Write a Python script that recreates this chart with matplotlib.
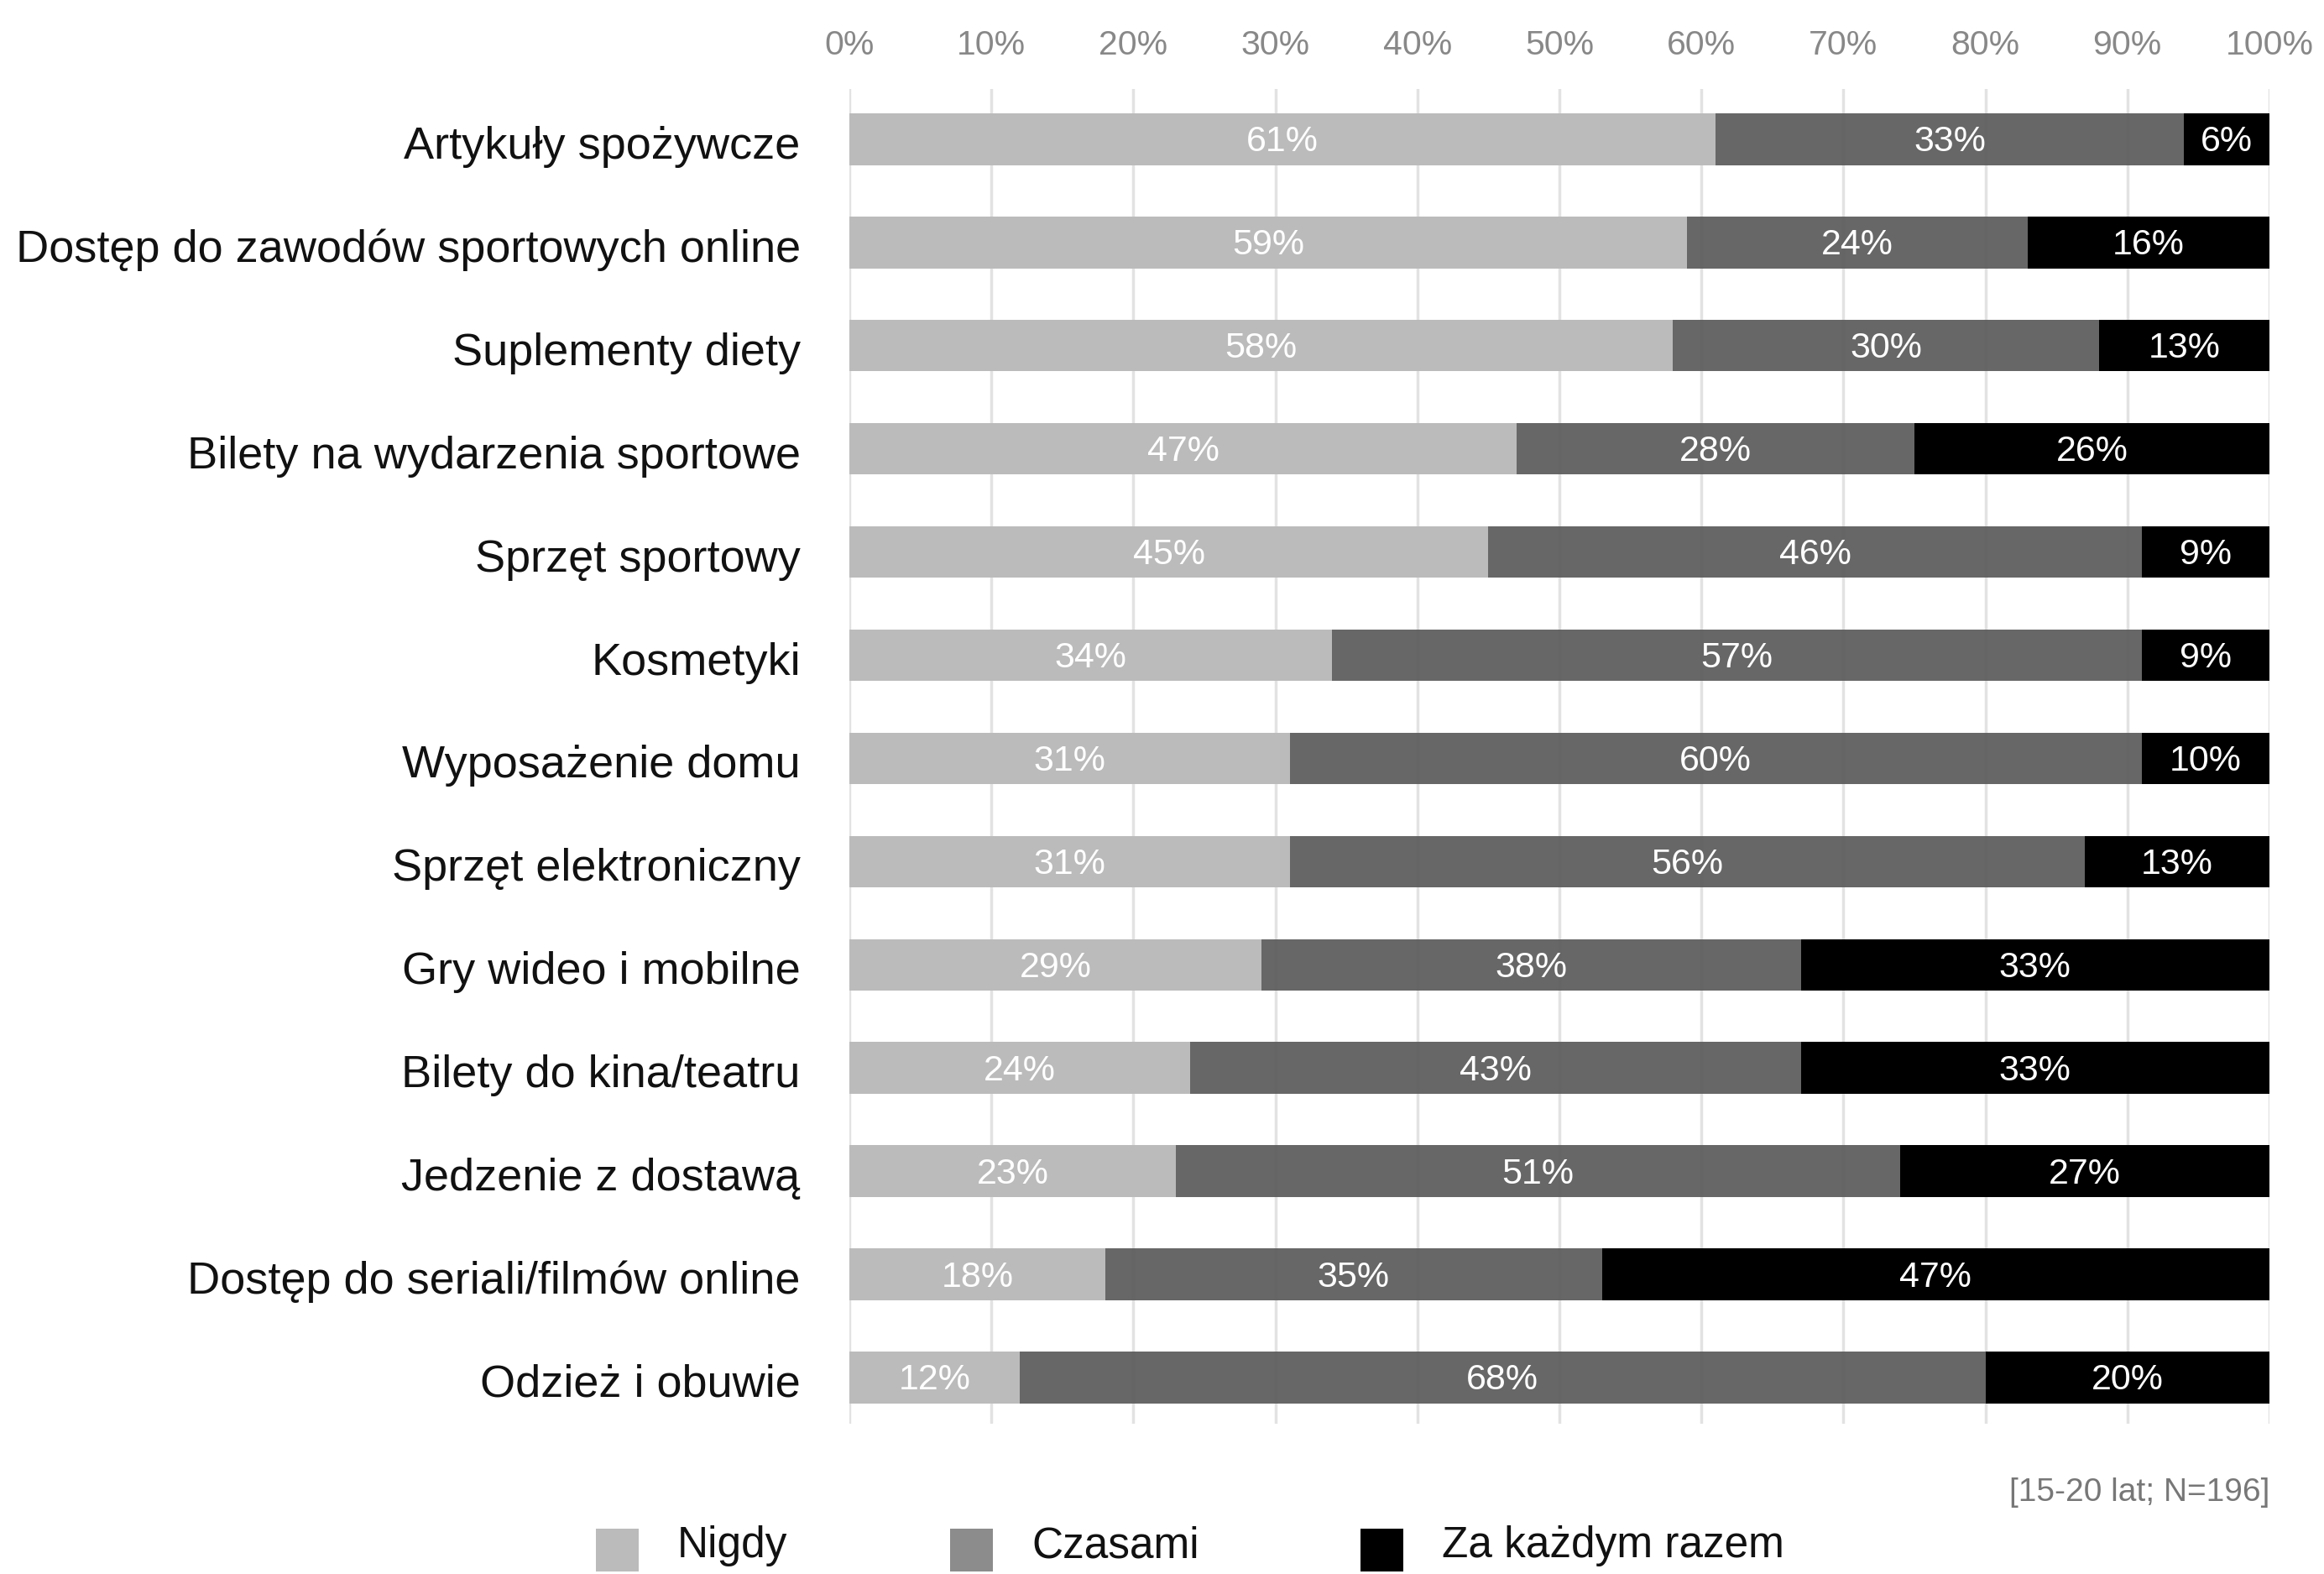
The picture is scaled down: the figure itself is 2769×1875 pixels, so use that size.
import matplotlib
matplotlib.use("Agg")
import matplotlib.pyplot as plt
from matplotlib.patches import Rectangle
from matplotlib.transforms import ScaledTranslation

# ──────────────────────────────────────────────────────────────────────────────
# Data (values as printed on the bars, %)
categories = [
    "Artykuły spożywcze",
    "Dostęp do zawodów sportowych online",
    "Suplementy diety",
    "Bilety na wydarzenia sportowe",
    "Sprzęt sportowy",
    "Kosmetyki",
    "Wyposażenie domu",
    "Sprzęt elektroniczny",
    "Gry wideo i mobilne",
    "Bilety do kina/teatru",
    "Jedzenie z dostawą",
    "Dostęp do seriali/filmów online",
    "Odzież i obuwie",
]
nigdy = [61, 59, 58, 47, 45, 34, 31, 31, 29, 24, 23, 18, 12]
czasami = [33, 24, 30, 28, 46, 57, 60, 56, 38, 43, 51, 35, 68]
za_kazdym = [6, 16, 13, 26, 9, 9, 10, 13, 33, 33, 27, 47, 20]
series_names = ["Nigdy", "Czasami", "Za każdym razem"]
ticks = [0, 10, 20, 30, 40, 50, 60, 70, 80, 90, 100]
note = "[15-20 lat; N=196]"
# ──────────────────────────────────────────────────────────────────────────────

FONT = ["Liberation Sans", "DejaVu Sans"]
plt.rcParams["font.family"] = FONT

C_LIGHT = "#bbbbbb"
C_MID = "#5a5a5a"
C_MID_LEGEND = "#8c8c8c"
C_DARK = "#000000"


def main():
    fig = plt.figure(figsize=(27.69, 18.75), dpi=100)
    ax = fig.add_axes([0.3655, 0.0955, 0.611, 0.848])

    y = list(range(len(categories)))
    mid_left = nigdy
    # black segment fills the rest of the bar up to 100%
    dark_left = [n + c for n, c in zip(nigdy, czasami)]
    dark_width = [100 - l for l in dark_left]

    h = 0.5
    b1 = ax.barh(y, nigdy, height=h, color=C_LIGHT, zorder=3)
    b2 = ax.barh(y, czasami, left=mid_left, height=h, color=C_MID,
                 alpha=0.92, zorder=3)
    b3 = ax.barh(y, dark_width, left=dark_left, height=h, color=C_DARK,
                 zorder=3)

    # value labels
    down = ScaledTranslation(0, -2.5 / 72, fig.dpi_scale_trans)
    for bars, vals in [(b1, nigdy), (b2, czasami), (b3, za_kazdym)]:
        for rect, v in zip(bars, vals):
            cx = rect.get_x() + rect.get_width() / 2
            cy = rect.get_y() + rect.get_height() / 2
            ax.text(cx, cy, f"{v}%", ha="center", va="center",
                    color="white", fontsize=31, zorder=4,
                    transform=ax.transData + down)

    ax.set_xlim(0, 100)
    ax.set_ylim(12.447, -0.488)
    ax.set_xticks(ticks)
    ax.set_xticklabels([f"{t}%" for t in ticks])
    ax.xaxis.tick_top()
    ax.tick_params(axis="x", length=0, pad=24, labelsize=29.5,
                   labelcolor="#888888")
    ax.set_yticks(y)
    ax.set_yticklabels(categories)
    ax.tick_params(axis="y", length=0, pad=42, labelsize=39,
                   labelcolor="#111111")
    for lbl in ax.get_yticklabels():
        lbl.set_transform(lbl.get_transform() + down)
    ax.grid(axis="x", color="#e2e2e2", linewidth=2.5, zorder=0)
    ax.set_axisbelow(True)
    for s in ax.spines.values():
        s.set_visible(False)

    # note
    fig.text(0.9765, 1 - 1778 / 1875, note, ha="right", va="center",
             fontsize=28, color="#777777")

    # legend drawn by hand (kept just inside the bottom edge)
    W, H = 2769, 1875
    leg_items = [(710, C_LIGHT), (1132, C_MID_LEGEND), (1621, C_DARK)]
    for (x0, col), name in zip(leg_items, series_names):
        fig.patches.append(Rectangle((x0 / W, 1 - 1872 / H), 51 / W, 51 / H,
                                     transform=fig.transFigure,
                                     facecolor=col, edgecolor="none"))
        fig.text((x0 + 97) / W, 1 - 1842 / H, name, ha="left",
                 va="center", fontsize=37, color="#111111")

    fig.savefig("out.png", dpi=100, facecolor="white")


if __name__ == "__main__":
    main()
